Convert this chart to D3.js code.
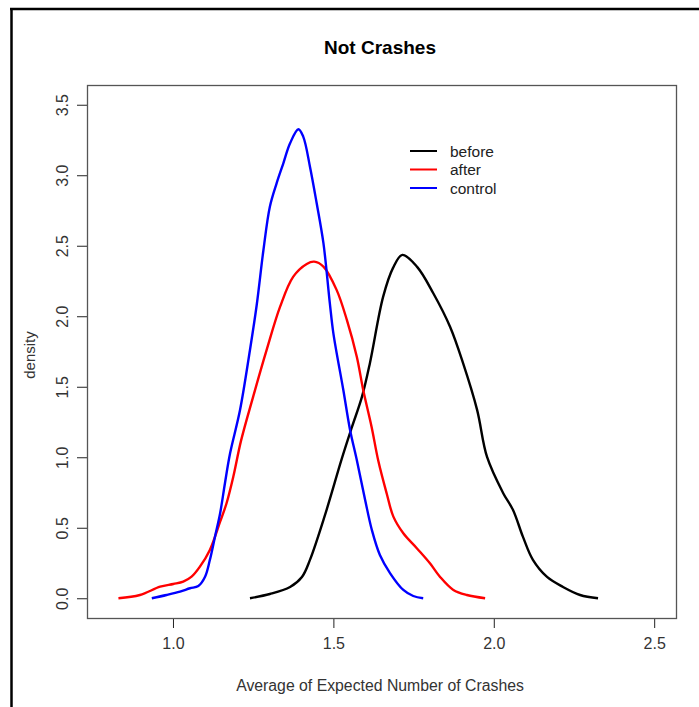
<!DOCTYPE html>
<html><head><meta charset="utf-8">
<script src="https://cdn.jsdelivr.net/npm/d3@7"></script>
<style>body{margin:0;background:#fff}svg{display:block}text{font-family:"Liberation Sans",Arial,sans-serif}</style>
</head><body>
<script>
// ---- data ----
const xTicks = [1.0, 1.5, 2.0, 2.5];
const yTicks = [0.0, 0.5, 1.0, 1.5, 2.0, 2.5, 3.0, 3.5];
const seriesNames = ["before", "after", "control"];
const seriesColors = ["#000000", "#ff0000", "#0000ff"];

const beforeX = [1.240,1.302,1.365,1.402,1.427,1.474,1.527,1.558,1.589,1.614,1.655,1.686,1.715,1.761,1.811,1.864,1.904,1.948,1.979,2.029,2.060,2.091,2.122,2.166,2.216,2.269,2.325];
const beforeY = [0.000,0.030,0.080,0.151,0.272,0.591,0.995,1.215,1.428,1.669,2.137,2.343,2.435,2.350,2.165,1.924,1.669,1.336,1.002,0.747,0.626,0.435,0.272,0.151,0.080,0.023,0.000];

const afterX = [0.830,0.897,0.960,1.001,1.032,1.058,1.084,1.115,1.147,1.167,1.188,1.212,1.250,1.292,1.334,1.375,1.417,1.440,1.469,1.510,1.542,1.573,1.593,1.619,1.640,1.666,1.687,1.718,1.760,1.801,1.832,1.874,1.916,1.973];
const afterY = [0.000,0.023,0.082,0.101,0.118,0.153,0.224,0.343,0.543,0.674,0.862,1.116,1.430,1.761,2.068,2.281,2.371,2.387,2.352,2.187,1.974,1.713,1.477,1.217,0.975,0.745,0.579,0.461,0.355,0.248,0.153,0.059,0.023,0.000];

const controlX = [0.934,0.980,1.022,1.053,1.079,1.100,1.115,1.131,1.147,1.162,1.178,1.209,1.240,1.261,1.282,1.302,1.323,1.344,1.365,1.391,1.406,1.427,1.448,1.469,1.489,1.500,1.531,1.552,1.573,1.599,1.620,1.645,1.677,1.718,1.749,1.780];
const controlY = [0.000,0.023,0.047,0.071,0.087,0.153,0.272,0.437,0.603,0.816,1.028,1.335,1.761,2.080,2.470,2.777,2.943,3.085,3.227,3.326,3.274,3.061,2.801,2.518,2.092,1.879,1.477,1.194,0.981,0.697,0.484,0.307,0.177,0.059,0.016,0.000];

const xlim = [0.8, 2.5];
const ylim = [0, 3.5];

// ---- layout ----
const W = 699, H = 707;
const box = {l: 87, r: 676, t: 85, b: 618};
const ext = (a) => { const s = a[1]-a[0]; return [a[0]-0.04*s, a[1]+0.04*s]; };

const svg = d3.select("body").append("svg").attr("width", W).attr("height", H);
svg.append("rect").attr("width", W).attr("height", H).attr("fill", "#fff");

// outer frame (left & top)
svg.append("line").attr("x1", 11.5).attr("x2", 11.5).attr("y1", 8).attr("y2", H).attr("stroke", "#000").attr("stroke-width", 2.5);
svg.append("line").attr("x1", 10).attr("x2", W).attr("y1", 9).attr("y2", 9).attr("stroke", "#000").attr("stroke-width", 2.5);

const x = d3.scaleLinear().domain(ext(xlim)).range([box.l, box.r]);
const y = d3.scaleLinear().domain(ext(ylim)).range([box.b, box.t]);

// axes
const xAxis = d3.axisBottom(x).tickValues(xTicks).tickFormat(d3.format(".1f")).tickSize(10).tickPadding(10);
const gx = svg.append("g").attr("transform", `translate(0,${box.b})`).call(xAxis);
gx.select(".domain").remove();
gx.selectAll("line").attr("stroke", "#222");
gx.selectAll("text").attr("font-size", 16).attr("fill", "#333");

const yAxis = d3.axisLeft(y).tickValues(yTicks).tickFormat(d3.format(".1f")).tickSize(10).tickPadding(0);
const gy = svg.append("g").attr("transform", `translate(${box.l},0)`).call(yAxis);
gy.select(".domain").remove();
gy.selectAll("line").attr("stroke", "#222");
gy.selectAll("text").attr("font-size", 16).attr("fill", "#333")
  .attr("x", 0).attr("y", 0).attr("dy", null)
  .attr("text-anchor", "middle")
  .attr("transform", `translate(${62 - box.l},0) rotate(-90) translate(0,5.5)`);

// box
svg.append("rect").attr("x", box.l+0.5).attr("y", box.t+0.5).attr("width", box.r-box.l).attr("height", box.b-box.t)
  .attr("fill", "none").attr("stroke", "#555").attr("stroke-width", 1.3);

// curves
const line = d3.line().x(d => x(d[0])).y(d => y(d[1])).curve(d3.curveCatmullRom.alpha(0.5));
const series = [
  d3.zip(beforeX, beforeY),
  d3.zip(afterX, afterY),
  d3.zip(controlX, controlY)
];
series.forEach((s, i) => {
  svg.append("path").datum(s).attr("d", line).attr("fill", "none")
    .attr("stroke", seriesColors[i]).attr("stroke-width", 2.4).attr("stroke-linejoin", "round");
});

// legend
seriesNames.forEach((n, i) => {
  const ly = 151 + i*18.5;
  svg.append("line").attr("x1", 410).attr("x2", 437).attr("y1", ly).attr("y2", ly)
    .attr("stroke", seriesColors[i]).attr("stroke-width", 2);
  svg.append("text").attr("x", 450).attr("y", ly+5.5).attr("font-size", 15.5).attr("fill", "#222").text(n);
});

// titles
svg.append("text").attr("x", 380).attr("y", 54).attr("text-anchor", "middle")
  .attr("font-size", 19).attr("font-weight", "bold").attr("fill", "#000").text("Not Crashes");
svg.append("text").attr("x", 380).attr("y", 691).attr("text-anchor", "middle")
  .attr("font-size", 15.8).attr("fill", "#333").text("Average of Expected Number of Crashes");
svg.append("text").attr("transform", "translate(35,355) rotate(-90)").attr("text-anchor", "middle")
  .attr("font-size", 15).attr("fill", "#333").text("density");
</script>
</body></html>
